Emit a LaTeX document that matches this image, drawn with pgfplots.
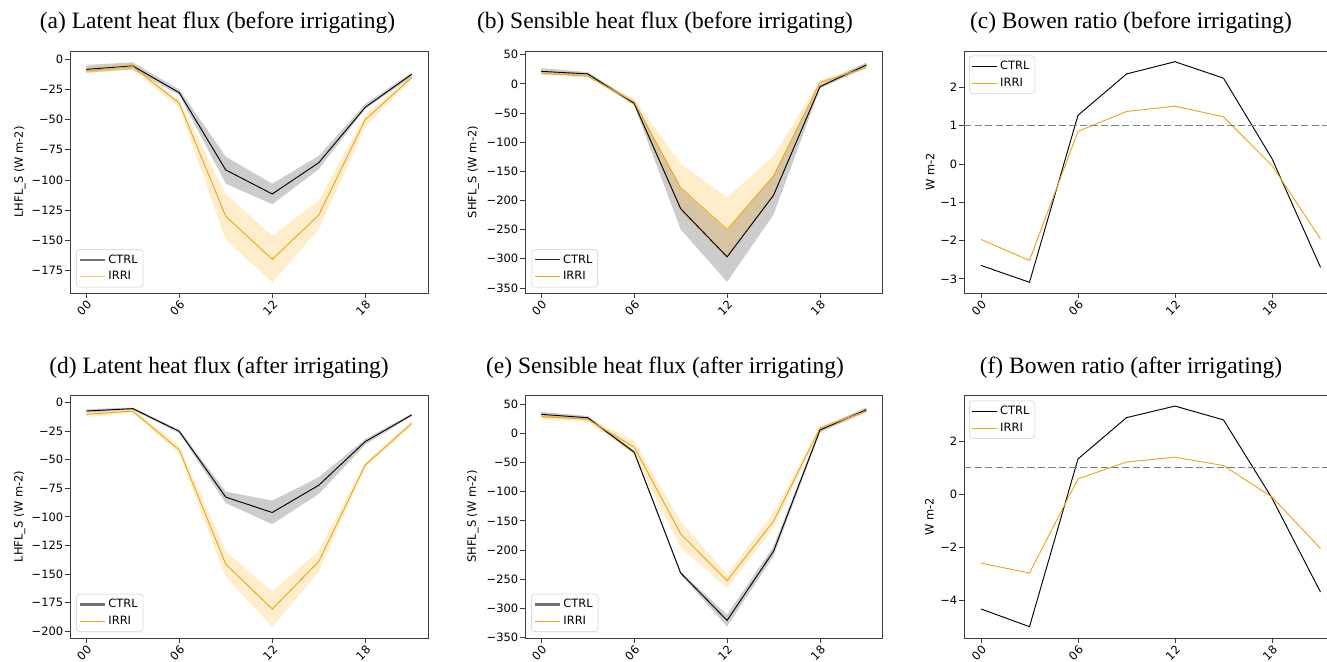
\documentclass[border=0pt]{standalone}
\usepackage{pgfplots}
\pgfplotsset{compat=1.18}
\usepackage{pgfplotstable}
\usepgfplotslibrary{fillbetween}
\usepackage{fontspec}
\setmainfont{Liberation Serif}
\newfontfamily\dejavu{DejaVu Sans}

\newcommand{\tickfont}{\dejavu\fontsize{8.6}{10}\selectfont}
\newcommand{\titlefont}{\fontsize{17.6}{20}\selectfont}

\definecolor{irri}{RGB}{238,164,24}
\definecolor{irriband}{RGB}{255,165,0}
\definecolor{spine}{RGB}{60,60,60}

% hour, CTRL mean, CTRL low, CTRL high, IRRI mean, IRRI low, IRRI high
\pgfplotstableread{
h   c       clo     chi     i       ilo     ihi
0   -8.3    -11     -4.7    -9.4    -11.5   -7
3   -5.5    -8.3    -2.5    -6      -8.5    -3.5
6   -27.6   -29.5   -25     -36.4   -40     -34
9   -91.6   -103    -80.6   -130    -149.6  -111.5
12  -111.5  -120    -103    -165.6  -184.6  -146
15  -85.6   -91     -80     -129    -141    -117
18  -39.7   -41     -37     -50     -56     -46
21  -12.4   -14.4   -10.8   -15     -16.3   -13.5
}\latentbefore

\pgfplotstableread{
h   c       clo     chi     i       ilo     ihi
0   21.4    17      27      18      16      20
3   17      14      20      13      11      15
6   -33.4   -37     -30     -31     -35     -26
9   -214    -249.5  -180    -178    -220    -137
12  -296.6  -339.5  -252    -249.7  -300    -195
15  -191    -224    -158    -158    -193    -123.5
18  -4.8    -8      -1      2.5     -2      6
21  32.5    28      37      28      25      31
}\sensiblebefore

\pgfplotstableread{
h   c       i
0   -2.65   -1.97
3   -3.09   -2.52
6   1.27    0.85
9   2.35    1.37
12  2.67    1.51
15  2.24    1.23
18  0.14    -0.04
21  -2.70   -1.96
}\bowenbefore

\pgfplotstableread{
h   c       clo     chi     i       ilo     ihi
0   -7.6    -9      -6      -10.5   -13     -8.5
3   -5.5    -6.5    -4.5    -7.6    -9      -6
6   -25.3   -27     -24     -41.6   -45     -37.5
9   -82.8   -88     -78     -141.3  -152.6  -130
12  -96.2   -106.4  -85.8   -180.5  -196    -165
15  -72.4   -80     -65.4   -139    -148    -129.7
18  -34.3   -37     -32     -54.7   -56.7   -52.6
21  -11     -12     -10     -18.3   -20.6   -16.3
}\latentafter

\pgfplotstableread{
h   c       clo     chi     i       ilo     ihi
0   32.8    28      37      28.8    24      32
3   27      24      30      24.2    20      27
6   -32     -35     -30     -23.4   -36     -13
9   -239.4  -242    -237    -172.3  -196.4  -150.6
12  -320.8  -331    -311    -252.6  -265    -242
15  -202    -210.7  -193.5  -150.6  -162    -136
18  5.9     2       9       9.3     6       13
21  40.8    37      45      38.5    35      41
}\sensibleafter

\pgfplotstableread{
h   c       i
0   -4.31   -2.59
3   -4.975  -2.96
6   1.325   0.575
9   2.875   1.21
12  3.31    1.39
15  2.79    1.075
18  -0.15   -0.11
21  -3.675  -2.04
}\bowenafter

\pgfplotsset{
  panel/.style={
    scale only axis,
    anchor=south west,
    xmin=-1.05, xmax=22.05,
    xtick={0,6,12,18},
    xticklabels={00,06,12,18},
    tick pos=left,
    tick align=outside,
    major tick length=3.4pt,
    axis line style={spine, line width=0.6pt},
    every tick/.style={spine, line width=0.6pt},
    tick label style={font=\tickfont},
    xticklabel style={rotate=45, anchor=north east, inner sep=1pt},
    yticklabel style={inner sep=1.5pt},
    ylabel style={font=\tickfont, anchor=center},
    /pgf/number format/assume math mode=true,
    legend cell align=left,
    legend image code/.code={\draw[##1] (0pt,0pt) -- (18.5pt,0pt);},
    legend style={
      draw=black!20, rounded corners=2.5pt, fill=white,
      fill opacity=0.8, draw opacity=1, text opacity=1,
      font=\tickfont, inner xsep=2pt, inner ysep=1.5pt,
      row sep=0pt,
      nodes={inner xsep=2pt, inner ysep=2pt, text height=6.8pt, text depth=1.8pt},
    },
  },
  ctrlline/.style={black, line width=0.7pt},
  irriline/.style={irri, line width=0.7pt},
}

% mean lines with their shaded spread
\newcommand{\bands}[1]{%
  \addplot[draw=none, name path=cu, forget plot] table[x=h, y=chi] {#1};
  \addplot[draw=none, name path=cl, forget plot] table[x=h, y=clo] {#1};
  \addplot[fill=black, fill opacity=0.2, draw=none, forget plot] fill between[of=cu and cl];
  \addplot[ctrlline, forget plot] table[x=h, y=c] {#1};
  \addplot[draw=none, name path=iu, forget plot] table[x=h, y=ihi] {#1};
  \addplot[draw=none, name path=il, forget plot] table[x=h, y=ilo] {#1};
  \addplot[fill=irriband, fill opacity=0.2, draw=none, forget plot] fill between[of=iu and il];
  \addplot[irriline, forget plot] table[x=h, y=i] {#1};
}

\begin{document}
\begin{tikzpicture}

% ---------- top row: before irrigating ----------
\begin{axis}[panel, at={(52.5pt,276pt)}, width=268.5pt, height=181.5pt,
  ymin=-193.5, ymax=6.9,
  ytick={0,-25,-50,-75,-100,-125,-150,-175},
  yticklabels={0,−25,−50,−75,−100,−125,−150,−175},
  ylabel={LHFL\_S (W m-2)},
  ylabel style={at={(axis description cs:-0.1397,0.5)}},
  legend style={at={(axis description cs:0.0168,0.0236)}, anchor=south west}]
\bands{\latentbefore}
\addlegendimage{black!55, line width=1.6pt}
\addlegendentry{CTRL}
\addlegendimage{irri!60, line width=0.8pt}
\addlegendentry{IRRI}
\end{axis}

\begin{axis}[panel, at={(393.75pt,276pt)}, width=268.3pt, height=181.5pt,
  ymin=-358.6, ymax=56.3,
  ytick={50,0,-50,-100,-150,-200,-250,-300,-350},
  yticklabels={50,0,−50,−100,−150,−200,−250,−300,−350},
  ylabel={SHFL\_S (W m-2)},
  ylabel style={at={(axis description cs:-0.1445,0.5)}},
  legend style={at={(axis description cs:0.0187,0.0236)}, anchor=south west}]
\bands{\sensiblebefore}
\addlegendimage{black!85, line width=0.8pt}
\addlegendentry{CTRL}
\addlegendimage{irri, line width=0.8pt}
\addlegendentry{IRRI}
\end{axis}

\begin{axis}[panel, at={(723pt,276pt)}, width=280.1pt, height=181.5pt,
  ymin=-3.37, ymax=2.95,
  ytick={2,1,0,-1,-2,-3},
  yticklabels={2,1,0,−1,−2,−3},
  ylabel={W m-2},
  ylabel style={at={(axis description cs:-0.091,0.5)}},
  legend style={at={(axis description cs:0.0134,0.9806)}, anchor=north west}]
\addplot[ctrlline] table[x=h, y=c] {\bowenbefore};
\addlegendentry{CTRL}
\addplot[irriline] table[x=h, y=i] {\bowenbefore};
\addlegendentry{IRRI}
\addplot[black!50, line width=1.1pt, dash pattern=on 5.5pt off 2.4pt, forget plot]
  coordinates {(-1.05,1) (22.05,1)};
\end{axis}

% ---------- bottom row: after irrigating ----------
\begin{axis}[panel, at={(52.5pt,17.25pt)}, width=268.5pt, height=182.25pt,
  ymin=-205.8, ymax=6.4,
  ytick={0,-25,-50,-75,-100,-125,-150,-175,-200},
  yticklabels={0,−25,−50,−75,−100,−125,−150,−175,−200},
  ylabel={LHFL\_S (W m-2)},
  ylabel style={at={(axis description cs:-0.141,0.5)}},
  legend style={at={(axis description cs:0.0168,0.0247)}, anchor=south west}]
\bands{\latentafter}
\addlegendimage{black!55, line width=1.6pt}
\addlegendentry{CTRL}
\addlegendimage{irri, line width=1pt}
\addlegendentry{IRRI}
\end{axis}

\begin{axis}[panel, at={(393.75pt,17.25pt)}, width=268.3pt, height=182.25pt,
  ymin=-351, ymax=66,
  ytick={50,0,-50,-100,-150,-200,-250,-300,-350},
  yticklabels={50,0,−50,−100,−150,−200,−250,−300,−350},
  ylabel={SHFL\_S (W m-2)},
  ylabel style={at={(axis description cs:-0.1457,0.5)}},
  legend style={at={(axis description cs:0.0168,0.0247)}, anchor=south west}]
\bands{\sensibleafter}
\addlegendimage{black!55, line width=1.6pt}
\addlegendentry{CTRL}
\addlegendimage{irri, line width=1pt}
\addlegendentry{IRRI}
\end{axis}

\begin{axis}[panel, at={(723pt,17.25pt)}, width=280.1pt, height=182.25pt,
  ymin=-5.4, ymax=3.725,
  ytick={2,0,-2,-4},
  yticklabels={2,0,−2,−4},
  ylabel={W m-2},
  ylabel style={at={(axis description cs:-0.093,0.5)}},
  legend style={at={(axis description cs:0.0134,0.9766)}, anchor=north west}]
\addplot[ctrlline] table[x=h, y=c] {\bowenafter};
\addlegendentry{CTRL}
\addplot[irriline] table[x=h, y=i] {\bowenafter};
\addlegendentry{IRRI}
\addplot[black!50, line width=1.1pt, dash pattern=on 5.5pt off 2.4pt, forget plot]
  coordinates {(-1.05,1) (22.05,1)};
\end{axis}

% ---------- panel titles ----------
\node[anchor=base, font=\titlefont] at (163.1pt,474pt) {(a) Latent heat flux (before irrigating)};
\node[anchor=base, font=\titlefont] at (498.75pt,474pt) {(b) Sensible heat flux (before irrigating)};
\node[anchor=base, font=\titlefont] at (848.25pt,474pt) {(c) Bowen ratio (before irrigating)};
\node[anchor=base, font=\titlefont] at (164.25pt,215.25pt) {(d) Latent heat flux (after irrigating)};
\node[anchor=base, font=\titlefont] at (498.75pt,215.25pt) {(e) Sensible heat flux (after irrigating)};
\node[anchor=base, font=\titlefont] at (848.25pt,215.25pt) {(f) Bowen ratio (after irrigating)};

\pgfresetboundingbox
\useasboundingbox (0pt,0pt) rectangle (995.25pt,495.75pt);
\end{tikzpicture}
\end{document}
